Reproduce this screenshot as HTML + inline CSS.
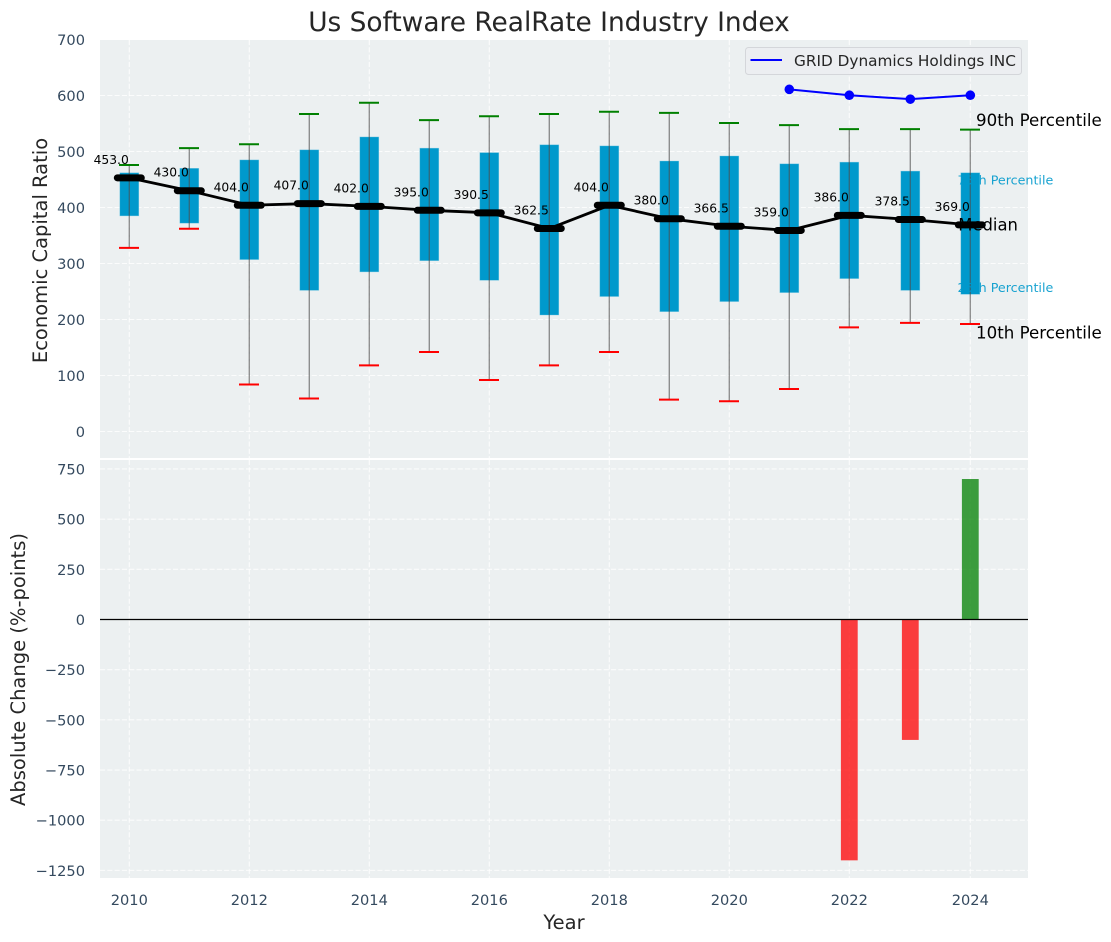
<!DOCTYPE html>
<html>
<head>
<meta charset="utf-8">
<style>
html,body{margin:0;padding:0;background:#fff;}
svg{display:block;font-family:"DejaVu Sans","Liberation Sans",sans-serif;}
</style>
</head>
<body>
<svg id="chart" width="1111" height="942" viewBox="0 0 1111 942" xmlns="http://www.w3.org/2000/svg"></svg>
<script>
const years = [2010,2011,2012,2013,2014,2015,2016,2017,2018,2019,2020,2021,2022,2023,2024];
const p10 = [328,362,84,59,118,142,92,118,142,57,54,76,186,194,192];
const p25 = [385,372,307,252,285,305,270,208,241,214,232,248,273,252,245];
const medians = [453,430,404,407,402,395,390.5,362.5,404,380,366.5,359,386,378.5,369];
const p75 = [462,470,485,503,526,506,498,512,510,483,492,478,481,465,462];
const p90 = [476,506,513,567,587,556,563,567,571,569,551,547,540,540,539];
const companyYears = [2021,2022,2023,2024];
const companyValues = [611,600.5,593.5,600.5];
const changeYears = [2022,2023,2024];
const changeValues = [-1200,-600,700];
const topTicks = [0,100,200,300,400,500,600,700];
const bottomTicks = [-1250,-1000,-750,-500,-250,0,250,500,750];
const xTicks = [2010,2012,2014,2016,2018,2020,2022,2024];

const svg = document.getElementById('chart');
const NS = 'http://www.w3.org/2000/svg';
function xScale(v){ return Math.floor(129.1 + (v - 2010) * 60.07) + 0.3; }
function yTop(v){ return 431.5 - v * 0.56; }
function yBottom(v){ return 619.5 - v * 0.2007; }
function make(tag, attrs, parent, text){
  const el = document.createElementNS(NS, tag);
  for (const k in attrs) el.setAttribute(k, attrs[k]);
  if (text !== undefined) el.textContent = text;
  (parent || svg).appendChild(el);
  return el;
}
const tickColor = '#34495e';
const darkText = '#262626';

// panels
const topPanel = make('rect', {x:100,y:40,width:928,height:418,fill:'#ecf0f1'});


const bottomPanel = make('rect', {x:100,y:460,width:928,height:418,fill:'#ecf0f1'});



// grid
const gridStyle = {stroke:'#ffffff','stroke-width':1.1,'stroke-dasharray':'5.1 2.2','stroke-opacity':0.8};
const grid = make('g', gridStyle);


xTicks.forEach(function(t){
  make('line', {x1:xScale(t),x2:xScale(t),y1:40,y2:458}, grid);
  make('line', {x1:xScale(t),x2:xScale(t),y1:460,y2:878}, grid);
});
topTicks.forEach(function(t){
  make('line', {x1:100,x2:1028,y1:yTop(t),y2:yTop(t)}, grid);
});
bottomTicks.forEach(function(t){
  make('line', {x1:100,x2:1028,y1:yBottom(t),y2:yBottom(t)}, grid);
});

// tick labels
topTicks.forEach(function(t){
  const el = make('text', {x:85,y:yTop(t)+5.5,'text-anchor':'end','font-size':14.6,fill:tickColor}, svg, String(t));
  
  
});
bottomTicks.forEach(function(t){
  const label = t < 0 ? '\u2212' + Math.abs(t) : String(t);
  const el = make('text', {x:85,y:yBottom(t)+5.5,'text-anchor':'end','font-size':14.6,fill:tickColor}, svg, label);
  
  
});
xTicks.forEach(function(t){
  const el = make('text', {x:xScale(t),y:905,'text-anchor':'middle','font-size':14.6,fill:tickColor}, svg, String(t));
  
  
});

// boxes, whiskers, caps
years.forEach(function(yr, i){
  const x = xScale(yr);
  const box = make('rect', {x:x-9.5,y:yTop(p75[i]),width:19,height:yTop(p25[i])-yTop(p75[i]),fill:'#0099cc',stroke:'#7fcce5','stroke-width':0.6,'stroke-opacity':0.6});
  
  
  const whisker = make('line', {x1:x,x2:x,y1:yTop(p90[i]),y2:yTop(p10[i]),stroke:'#4d4d4d','stroke-width':1.4,'stroke-opacity':0.6});
  
  
  const capHigh = make('line', {x1:x-10.3,x2:x+9.7,y1:yTop(p90[i]),y2:yTop(p90[i]),stroke:'#008000','stroke-width':2});
  
  
  const capLow = make('line', {x1:x-10.3,x2:x+9.7,y1:yTop(p10[i]),y2:yTop(p10[i]),stroke:'#ff0000','stroke-width':2});
  
  
});

// median line
const medianLine = make('polyline', {points:years.map(function(yr,i){return xScale(yr)+','+yTop(medians[i]);}).join(' '),fill:'none',stroke:'#000','stroke-width':2.8});


years.forEach(function(yr, i){
  const x = xScale(yr), y = yTop(medians[i]);
  const mark = make('line', {x1:x-12,x2:x+12,y1:y,y2:y,stroke:'#000','stroke-width':7,'stroke-linecap':'round'});
  
  
  const label = make('text', {x:x-0.5,y:y-14,'text-anchor':'end','font-size':12.3,fill:'#000'}, svg, medians[i].toFixed(1));
  
  
});

// company series
const companyLine = make('polyline', {points:companyYears.map(function(yr,i){return xScale(yr)+','+yTop(companyValues[i]);}).join(' '),fill:'none',stroke:'#0000ff','stroke-width':2});


companyYears.forEach(function(yr, i){
  const pt = make('circle', {cx:xScale(yr),cy:yTop(companyValues[i]),r:4.8,fill:'#0000ff'});
  
  
});

// percentile annotations
const li = years.length - 1;
const lastX = xScale(years[li]);
const ann90 = make('text', {x:lastX+5.7,y:yTop(p90[li])-3.5,'font-size':16.67,fill:'#000'}, svg, '90th Percentile');


const ann75 = make('text', {x:lastX-12.8,y:yTop(p75[li])+11.5,'font-size':12.7,fill:'#0099cc','fill-opacity':0.9}, svg, '75th Percentile');


const annMed = make('text', {x:lastX-12,y:yTop(medians[li])+5.5,'font-size':16.4,fill:'#000'}, svg, 'Median');


const ann25 = make('text', {x:lastX-12.8,y:yTop(p25[li])-2.5,'font-size':12.7,fill:'#0099cc','fill-opacity':0.9}, svg, '25th Percentile');


const ann10 = make('text', {x:lastX+5.7,y:yTop(p10[li])+14.5,'font-size':16.67,fill:'#000'}, svg, '10th Percentile');



// change bars
changeYears.forEach(function(yr, i){
  const v = changeValues[i];
  const y0 = yBottom(0), y1 = yBottom(v);
  const bar = make('rect', {x:xScale(yr)-8.4,y:Math.min(y0,y1),width:16.8,height:Math.abs(y1-y0),fill:v<0?'#ff0000':'#008000','fill-opacity':0.75});
  
  
});
const zeroLine = make('line', {x1:100,x2:1028,y1:yBottom(0),y2:yBottom(0),stroke:'#000','stroke-width':1.2});



// legend
const legend = make('g', {});


make('rect', {x:745.5,y:47.5,width:276,height:27,rx:3,fill:'#ecedf1','fill-opacity':0.9,stroke:'#d4d6da','stroke-width':1}, legend);
make('line', {x1:750.5,x2:782,y1:60,y2:60,stroke:'#0000ff','stroke-width':2}, legend);
make('text', {x:794,y:66,'font-size':15.3,fill:darkText}, legend, 'GRID Dynamics Holdings INC');

// titles
const title = make('text', {x:549,y:31,'text-anchor':'middle','font-size':26.4,fill:darkText}, svg, 'Us Software RealRate Industry Index');


const topLabel = make('text', {transform:'translate(47,250.5) rotate(-90)','text-anchor':'middle','font-size':19.5,fill:darkText}, svg, 'Economic Capital Ratio');


const bottomLabel = make('text', {transform:'translate(25,669.5) rotate(-90)','text-anchor':'middle','font-size':19.5,fill:darkText}, svg, 'Absolute Change (%-points)');


const xLabel = make('text', {x:564,y:929,'text-anchor':'middle','font-size':19.5,fill:darkText}, svg, 'Year');


</script>
</body>
</html>
